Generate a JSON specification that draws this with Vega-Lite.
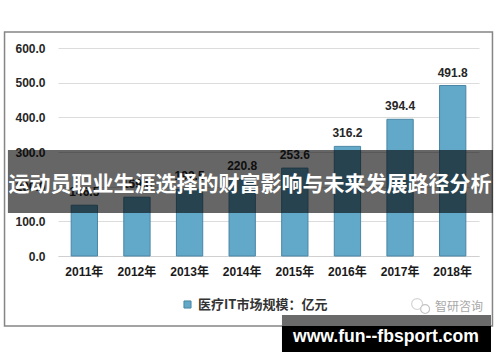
{
  "$schema": "https://vega.github.io/schema/vega-lite/v6.json",
  "width": 421,
  "height": 208,
  "autosize": {"type": "none"},
  "padding": {"left": 58, "top": 48, "right": 21, "bottom": 106},
  "background": "white",
  "config": {
    "view": {"stroke": null},
    "font": "Liberation Sans, Noto Sans CJK SC",
    "text": {"font": "Liberation Sans, Noto Sans CJK SC"}
  },
  "resolve": {"scale": {"x": "independent", "y": "independent"}, "axis": {"x": "independent", "y": "independent"}},
  "layer": [
    {
      "data": {"values": [
        {"年份": "2011年", "规模": 146.5, "系列": "医疗IT市场规模：亿元"},
        {"年份": "2012年", "规模": 169.6, "系列": "医疗IT市场规模：亿元"},
        {"年份": "2013年", "规模": 192.5, "系列": "医疗IT市场规模：亿元"},
        {"年份": "2014年", "规模": 220.8, "系列": "医疗IT市场规模：亿元"},
        {"年份": "2015年", "规模": 253.6, "系列": "医疗IT市场规模：亿元"},
        {"年份": "2016年", "规模": 316.2, "系列": "医疗IT市场规模：亿元"},
        {"年份": "2017年", "规模": 394.4, "系列": "医疗IT市场规模：亿元"},
        {"年份": "2018年", "规模": 491.8, "系列": "医疗IT市场规模：亿元"}
      ]},
      "encoding": {
        "x": {
          "field": "年份", "type": "nominal", "sort": null,
          "scale": {"paddingInner": 0.5, "paddingOuter": 0.25},
          "axis": {"title": null, "ticks": false, "labelAngle": 0, "labelFontSize": 12, "labelFontWeight": "bold", "labelColor": "#1a1a1a", "labelPadding": 10, "domainColor": "#d0d0d0", "domainWidth": 1}
        },
        "y": {
          "field": "规模", "type": "quantitative",
          "scale": {"domain": [0, 600], "nice": false},
          "axis": {"title": null, "values": [0, 100, 200, 300, 400, 500, 600], "labelOverlap": false, "format": ".1f", "domain": false, "ticks": false, "labelPadding": 13, "labelFontSize": 12, "labelFontWeight": "bold", "labelColor": "#262626", "gridColor": "#dcdcdc", "gridWidth": 1.2}
        }
      },
      "layer": [
        {
          "mark": {"type": "bar", "stroke": "#4a86a5", "strokeWidth": 1},
          "encoding": {
            "color": {
              "field": "系列", "type": "nominal",
              "scale": {"range": ["#62A8C9"]},
              "legend": {"title": null, "orient": "none", "legendX": 123, "legendY": 250, "padding": 0, "symbolType": "square", "symbolSize": 50, "symbolStrokeColor": "#4a86a5", "symbolStrokeWidth": 1, "labelFontSize": 13, "labelFontWeight": "bold", "labelColor": "#333333", "labelOffset": 4, "labelFont": "Noto Sans CJK SC"}
            }
          }
        },
        {
          "mark": {"type": "text", "baseline": "middle", "dy": -13, "fontSize": 12, "fontWeight": "bold", "color": "#262626"},
          "encoding": {
            "text": {"field": "规模", "type": "quantitative", "format": ".1f"}
          }
        }
      ]
    },
    {
      "data": {"values": [{}]},
      "mark": {"type": "rect", "fill": null, "fillOpacity": 0, "stroke": "#858585", "strokeWidth": 1.5},
      "encoding": {
        "x": {"datum": -0.127, "type": "quantitative", "scale": {"domain": [0, 1], "nice": false, "zero": false}, "axis": null},
        "x2": {"datum": 1.032},
        "y": {"datum": 646.2, "type": "quantitative", "scale": {"domain": [0, 600], "nice": false}, "axis": null},
        "y2": {"datum": -201.9}
      }
    },
    {
      "data": {"values": [{}]},
      "mark": {"type": "rect", "fill": "#000000", "opacity": 0.6},
      "encoding": {
        "x": {"datum": -0.119, "type": "quantitative", "scale": {"domain": [0, 1], "nice": false, "zero": false}, "axis": null},
        "x2": {"datum": 1.033},
        "y": {"datum": 305.8, "type": "quantitative", "scale": {"domain": [0, 600], "nice": false}, "axis": null},
        "y2": {"datum": 124.0}
      }
    },
    {
      "data": {"values": [{"标题": "运动员职业生涯选择的财富影响与未来发展路径分析"}]},
      "mark": {"type": "text", "font": "Noto Sans CJK SC", "fontSize": 21, "fontWeight": "bold", "color": "white", "align": "center", "baseline": "middle"},
      "encoding": {
        "x": {"datum": 0.456, "type": "quantitative", "scale": {"domain": [0, 1], "nice": false, "zero": false}, "axis": null},
        "y": {"datum": 204.8, "type": "quantitative", "scale": {"domain": [0, 600], "nice": false}, "axis": null},
        "text": {"field": "标题"}
      }
    },
    {
      "data": {"values": [{"来源": "智研咨询"}]},
      "mark": {"type": "text", "font": "Noto Sans CJK SC", "fontSize": 12, "color": "#a8a8a8", "align": "center", "baseline": "middle"},
      "encoding": {
        "x": {"datum": 0.9525, "type": "quantitative", "scale": {"domain": [0, 1], "nice": false, "zero": false}, "axis": null},
        "y": {"datum": -147.1, "type": "quantitative", "scale": {"domain": [0, 600], "nice": false}, "axis": null},
        "text": {"field": "来源"}
      }
    },
    {
      "data": {"values": [{}]},
      "mark": {"type": "point", "shape": "circle", "filled": false, "stroke": "#c4c4c4", "strokeWidth": 1.2, "size": 120},
      "encoding": {
        "x": {"datum": 0.853, "type": "quantitative", "scale": {"domain": [0, 1], "nice": false, "zero": false}, "axis": null},
        "y": {"datum": -138.5, "type": "quantitative", "scale": {"domain": [0, 600], "nice": false}, "axis": null}
      }
    },
    {
      "data": {"values": [{}]},
      "mark": {"type": "point", "shape": "circle", "filled": true, "fill": "white", "fillOpacity": 1, "stroke": "#c4c4c4", "strokeWidth": 1.2, "size": 80},
      "encoding": {
        "x": {"datum": 0.872, "type": "quantitative", "scale": {"domain": [0, 1], "nice": false, "zero": false}, "axis": null},
        "y": {"datum": -152.9, "type": "quantitative", "scale": {"domain": [0, 600], "nice": false}, "axis": null}
      }
    },
    {
      "data": {"values": [{}]},
      "mark": {"type": "rect", "fill": "#6a6a6a"},
      "encoding": {
        "x": {"datum": 0.532, "type": "quantitative", "scale": {"domain": [0, 1], "nice": false, "zero": false}, "axis": null},
        "x2": {"datum": 1.0285},
        "y": {"datum": -170.2, "type": "quantitative", "scale": {"domain": [0, 600], "nice": false}, "axis": null},
        "y2": {"datum": -201.9}
      }
    },
    {
      "data": {"values": [{}]},
      "mark": {"type": "rect", "fill": "#000000"},
      "encoding": {
        "x": {"datum": 0.532, "type": "quantitative", "scale": {"domain": [0, 1], "nice": false, "zero": false}, "axis": null},
        "x2": {"datum": 1.0285},
        "y": {"datum": -201.9, "type": "quantitative", "scale": {"domain": [0, 600], "nice": false}, "axis": null},
        "y2": {"datum": -276.9}
      }
    },
    {
      "data": {"values": [{"网址": "www.fun--fbsport.com"}]},
      "mark": {"type": "text", "font": "Liberation Sans", "fontSize": 17.6, "fontWeight": "bold", "color": "white", "align": "center", "baseline": "middle"},
      "encoding": {
        "x": {"datum": 0.779, "type": "quantitative", "scale": {"domain": [0, 1], "nice": false, "zero": false}, "axis": null},
        "y": {"datum": -233.7, "type": "quantitative", "scale": {"domain": [0, 600], "nice": false}, "axis": null},
        "text": {"field": "网址"}
      }
    }
  ]
}
